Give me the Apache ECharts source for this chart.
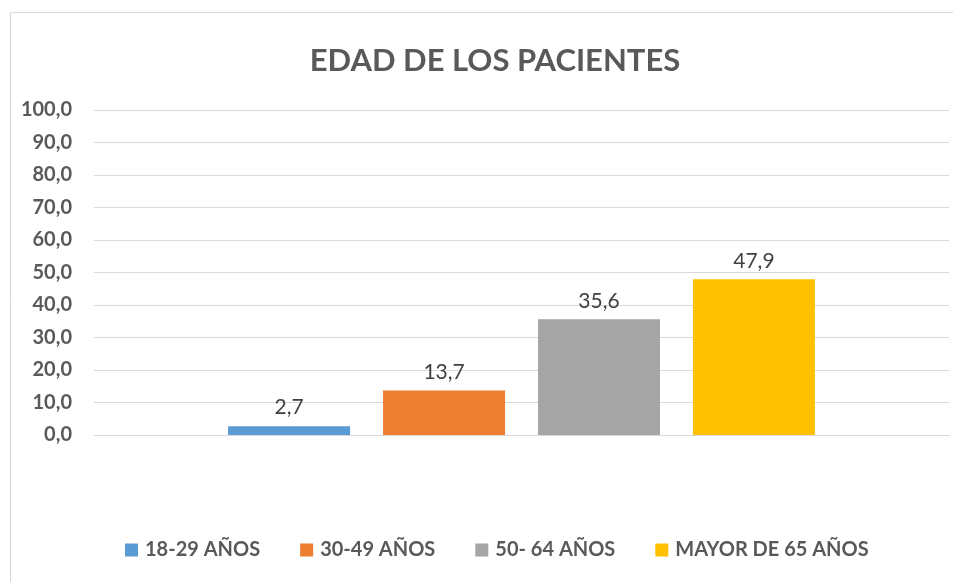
<!DOCTYPE html>
<html>
<head>
<meta charset="utf-8">
<script src="https://cdn.jsdelivr.net/npm/echarts@6/dist/echarts.min.js"></script>
<style>
  html, body { margin: 0; padding: 0; background: #fff; }
  #chart { width: 953px; height: 582px; }
</style>
</head>
<body>
<div id="chart"></div>
<script>
// datos
const seriesNames = ['18-29 AÑOS', '30-49 AÑOS', '50- 64 AÑOS', 'MAYOR DE 65 AÑOS'];
const seriesValues = [2.7, 13.7, 35.6, 47.9];
const seriesColors = ['#5B9BD5', '#ED7D31', '#A5A5A5', '#FFC000'];
const categories = [''];

const fmt = v => v.toFixed(1).replace('.', ',');
const font = 'Lato, "Open Sans", sans-serif';

const chart = echarts.init(document.getElementById('chart'));

const series = seriesNames.map((name, i) => ({
    name: name,
    type: 'bar',
    data: [seriesValues[i]],
    barWidth: 122,
    barGap: '27%',
    itemStyle: { color: seriesColors[i] },
    label: {
        show: true,
        position: 'top',
        distance: 8,
        formatter: p => fmt(p.value),
        fontFamily: font,
        fontSize: 21,
        color: '#404040'
    }
}));

chart.setOption({
    animation: false,
    backgroundColor: '#fff',
    title: {
        text: 'EDAD DE LOS PACIENTES',
        left: 490,
        top: 40,
        textAlign: 'center',
        textStyle: { fontFamily: font, fontSize: 31, fontWeight: 'bold', color: '#595959' }
    },
    graphic: [{
        type: 'rect',
        shape: { x: 10.5, y: 12.5, width: 1000, height: 1000 },
        style: { fill: 'none', stroke: '#d9d9d9', lineWidth: 1 },
        silent: true
    }],
    legend: {
        bottom: 17,
        left: 120,
        itemWidth: 13,
        itemHeight: 13,
        itemGap: 40,
        icon: 'rect',
        textStyle: { fontFamily: font, fontSize: 20, fontWeight: 'bold', color: '#595959', padding: [0, 0, 0, 2] }
    },
    grid: { left: 94, right: 4, top: 110, bottom: 147 },
    xAxis: {
        type: 'category',
        data: categories,
        axisLine: { lineStyle: { color: '#d9d9d9' } },
        axisTick: { show: false },
        axisLabel: { show: false }
    },
    yAxis: {
        type: 'value',
        min: 0,
        max: 100,
        interval: 10,
        axisLine: { show: false },
        axisTick: { show: false },
        splitLine: { lineStyle: { color: '#d9d9d9', width: 1 } },
        axisLabel: {
            margin: 22,
            formatter: v => fmt(v),
            fontFamily: font,
            fontSize: 20,
            fontWeight: 'bold',
            color: '#595959'
        }
    },
    series: series
});
</script>
</body>
</html>
